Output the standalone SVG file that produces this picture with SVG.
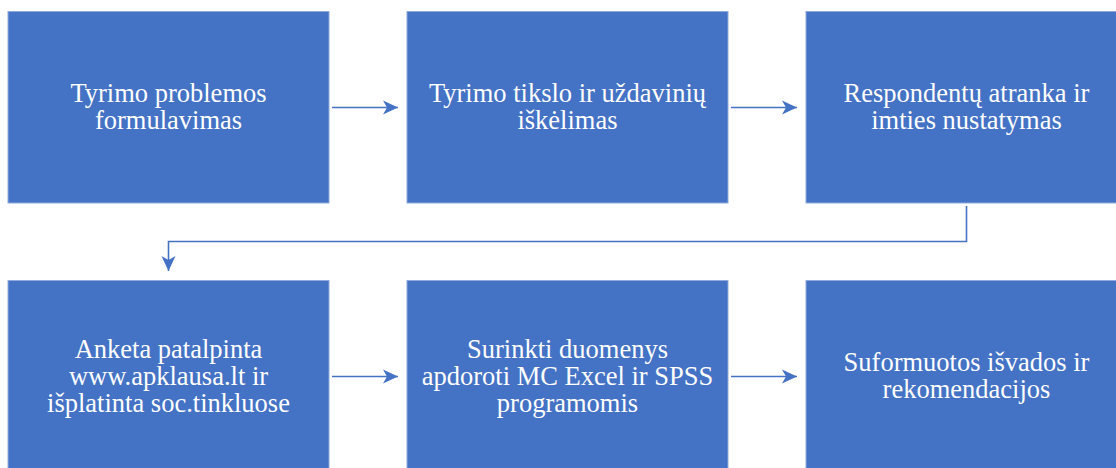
<svg xmlns="http://www.w3.org/2000/svg" width="1116" height="468" viewBox="0 0 1116 468">
<style>
.box{fill:#4472C4;stroke:#8FAADC;stroke-width:1}
.lbl{font-family:'Liberation Serif','Times New Roman',serif;font-size:26.5px;fill:#ffffff;text-anchor:middle}
.conn{fill:none;stroke:#4472C4;stroke-width:1.6}
</style>
<defs>
<marker id="ah" markerUnits="userSpaceOnUse" markerWidth="16" markerHeight="16" viewBox="0 0 16 16" refX="15" refY="8" orient="auto">
<path d="M0,1 L15,8 L0,15 L4,8 Z" fill="#4472C4"/>
</marker>
</defs>
<rect width="1116" height="468" fill="#ffffff"/>
<g id="n1"><rect class="box" x="8" y="11.5" width="321" height="191.5"/>
<text class="lbl" x="168.5" y="101.5">Tyrimo problemos<tspan x="168.5" dy="27">formulavimas</tspan></text></g>
<g id="n2"><rect class="box" x="407" y="11.5" width="321" height="191.5"/>
<text class="lbl" x="567.5" y="101.5">Tyrimo tikslo ir uždavinių<tspan x="567.5" dy="27">iškėlimas</tspan></text></g>
<g id="n3"><rect class="box" x="806" y="11.5" width="321" height="191.5"/>
<text class="lbl" x="966.5" y="101.5">Respondentų atranka ir<tspan x="966.5" dy="27">imties nustatymas</tspan></text></g>
<g id="n4"><rect class="box" x="8" y="280.5" width="321" height="188"/>
<text class="lbl" x="168.5" y="357.5">Anketa patalpinta<tspan x="168.5" dy="27">www.apklausa.lt ir</tspan><tspan x="168.5" dy="27">išplatinta soc.tinkluose</tspan></text></g>
<g id="n5"><rect class="box" x="407" y="280.5" width="321" height="188"/>
<text class="lbl" x="567.5" y="357.5">Surinkti duomenys<tspan x="567.5" dy="27">apdoroti MC Excel ir SPSS</tspan><tspan x="567.5" dy="27">programomis</tspan></text></g>
<g id="n6"><rect class="box" x="806" y="280.5" width="321" height="188"/>
<text class="lbl" x="966.5" y="370.5">Suformuotos išvados ir<tspan x="966.5" dy="27">rekomendacijos</tspan></text></g>
<g id="connectors">
<path class="conn" d="M332,107.5 H398" marker-end="url(#ah)"/>
<path class="conn" d="M731,107.5 H797" marker-end="url(#ah)"/>
<path class="conn" d="M966.5,206 V241.5 H168.5 V271" marker-end="url(#ah)"/>
<path class="conn" d="M332,376.5 H398" marker-end="url(#ah)"/>
<path class="conn" d="M731,376.5 H797" marker-end="url(#ah)"/>
</g>
</svg>
